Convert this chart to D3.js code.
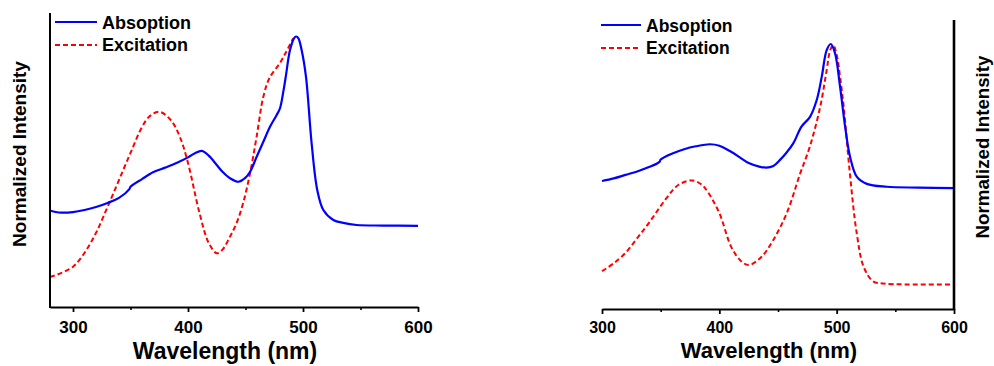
<!DOCTYPE html>
<html>
<head>
<meta charset="utf-8">
<script src="https://cdn.jsdelivr.net/npm/d3@7"></script>
<style>
  html, body { margin: 0; padding: 0; background: #fff; }
  svg { display: block; font-family: "Liberation Sans", Arial, sans-serif; font-weight: bold; }
</style>
</head>
<body>
<svg id="chart" width="994" height="366"></svg>
<script>
// ---------- Data ----------
const seriesNames = ["Absoption", "Excitation"];
const majorTicks = [300, 400, 500, 600];
const minorTicks = [350, 450, 550];
const xTitle = "Wavelength (nm)";
const yTitle = "Normalized Intensity";

// Left panel: absorption
const wlAbsL = [280, 285, 290, 300, 310, 320, 330, 340, 349, 350, 360, 370, 380, 390, 400, 406, 412, 418, 425, 430, 436.5, 443.8, 450, 454, 459.7, 465.5, 471.3, 477.1, 480, 483, 485, 488.7, 492.2, 494, 496, 498.8, 502.6, 507.5, 512.4, 517.7, 526.4, 535, 546.7, 570, 600];
const absL   = [32.8, 32.3, 32.1, 32.3, 33.0, 34.0, 35.4, 37.1, 40.1, 40.9, 43.5, 45.9, 47.4, 49.0, 50.9, 52.3, 53.1, 51.5, 48.3, 46.0, 43.8, 42.6, 44.0, 46.0, 51.1, 56.2, 61.3, 65.3, 67.6, 73.5, 78.3, 87.4, 91.4, 92.0, 91.4, 87.4, 78.3, 55.7, 39.8, 33.0, 29.6, 28.6, 27.9, 27.7, 27.6];
// Left panel: excitation
const wlExcL = [280, 290, 300, 310, 320, 330, 340, 350, 360, 367, 375, 385, 393, 400, 410, 418, 425, 430, 436.5, 442.3, 448, 454, 459.7, 465.5, 471, 480, 485, 491.5];
const excL   = [10.2, 11.6, 13.7, 18.4, 25.2, 34.0, 43.2, 52.4, 61.2, 65.0, 66.4, 63.6, 57.8, 49.0, 32.0, 21.8, 18.3, 19.5, 23.9, 28.6, 35.4, 45.6, 58.0, 71.5, 78.0, 83.0, 86.5, 91.4];

// Right panel: absorption
const wlAbsR = [300, 310, 320, 330, 340, 349, 350, 360, 370, 380, 392, 400, 410, 418, 425, 434.7, 440, 446, 451.7, 457, 463, 470, 477.3, 483, 487.3, 491.5, 495, 498.6, 502.9, 507.2, 511.4, 517.1, 525.7, 542.7, 570, 600];
const absR   = [44.3, 45.2, 46.4, 47.6, 49.1, 50.9, 51.7, 53.8, 55.3, 56.3, 57.0, 56.5, 54.4, 52.3, 50.5, 49.2, 48.9, 49.5, 51.6, 54.0, 57.3, 63.1, 66.5, 72.3, 80.4, 89.6, 91.7, 88.5, 76.9, 63.1, 52.7, 45.8, 43.3, 42.3, 42.0, 41.8];
// Right panel: excitation
const wlExcR = [300, 310, 320, 330, 340, 355, 365, 377, 385, 390, 400, 410, 418, 425, 436, 446, 457.5, 469, 477, 486, 491.5, 494.5, 497, 500, 503, 506, 511, 517, 523, 531, 540, 560, 600];
const excR   = [13.1, 15.8, 19.4, 24.5, 29.8, 38.4, 42.9, 44.5, 43.0, 40.6, 33.2, 21.6, 16.8, 15.2, 18.1, 23.9, 33.2, 47.0, 56.0, 70.0, 82.7, 89.6, 91.3, 88.0, 80.0, 70.0, 48.0, 26.5, 14.6, 9.6, 8.8, 8.5, 8.5];

// ---------- Drawing ----------
const svg = d3.select("#chart");
const BLUE = "#0000ff", RED = "#ff0000";

function panel(cfg) {
  const x = d3.scaleLinear().domain(cfg.xDomain).range(cfg.xRange);
  const y = d3.scaleLinear().domain([0, 100]).range([cfg.yBottom, cfg.yTop]);
  const g = svg.append("g");

  // curves
  const line = d3.line().x(d => x(d[0])).y(d => y(d[1])).curve(d3.curveCatmullRom.alpha(0.5));
  g.append("path").datum(d3.zip(cfg.wlExc, cfg.exc))
    .attr("d", line).attr("fill", "none").attr("stroke", RED)
    .attr("stroke-width", 2).attr("stroke-dasharray", "5,3");
  g.append("path").datum(d3.zip(cfg.wlAbs, cfg.abs))
    .attr("d", line).attr("fill", "none").attr("stroke", BLUE)
    .attr("stroke-width", 2.2);

  // minor ticks
  const minor = d3.axisBottom(x).tickValues(minorTicks).tickSize(3).tickSizeOuter(0).tickFormat("");
  const gm = g.append("g").attr("transform", `translate(0,${cfg.yBottom})`).call(minor);
  gm.select(".domain").remove();
  gm.selectAll("line").attr("stroke", "#000").attr("stroke-width", 1.6);

  // major axis
  const major = d3.axisBottom(x).tickValues(majorTicks).tickSize(5).tickSizeOuter(0).tickFormat(d3.format("d"));
  const ga = g.append("g").attr("transform", `translate(0,${cfg.yBottom})`).call(major);
  ga.select(".domain").attr("stroke", "#000").attr("stroke-width", 2);
  ga.selectAll("line").attr("stroke", "#000").attr("stroke-width", 1.8);
  ga.selectAll("text")
    .attr("y", cfg.tickBase - cfg.yBottom).attr("dy", 0)
    .attr("font-family", "Liberation Sans, Arial, sans-serif")
    .attr("font-weight", "bold").attr("font-size", cfg.tickFont).attr("fill", "#000");

  // vertical axis line (no ticks)
  g.append("line")
    .attr("x1", cfg.yAxisX).attr("x2", cfg.yAxisX)
    .attr("y1", cfg.yTop).attr("y2", cfg.yBottom + 1)
    .attr("stroke", "#000").attr("stroke-width", cfg.yAxisW);

  // x title
  g.append("text").attr("x", cfg.titleX).attr("y", cfg.titleBase)
    .attr("text-anchor", "middle").attr("font-size", cfg.titleFont).attr("fill", "#000")
    .text(xTitle);

  // y title
  g.append("text")
    .attr("transform", `translate(${cfg.yLabX},${cfg.yLabY}) rotate(-90)`)
    .attr("text-anchor", "middle").attr("font-size", cfg.yLabFont).attr("fill", "#000")
    .text(yTitle);

  // legend
  const styles = [{c: BLUE, dash: null}, {c: RED, dash: "5,3"}];
  seriesNames.forEach((name, i) => {
    const ly = cfg.legY[i];
    g.append("line").attr("x1", cfg.legX0).attr("x2", cfg.legX1)
      .attr("y1", ly).attr("y2", ly).attr("stroke", styles[i].c)
      .attr("stroke-width", 2).attr("stroke-dasharray", styles[i].dash);
    g.append("text").attr("x", cfg.legTextX).attr("y", cfg.legBase[i])
      .attr("font-size", cfg.legFont).attr("fill", "#000").text(name);
  });
}

panel({
  xDomain: [280, 600], xRange: [50, 418], yBottom: 307, yTop: 13,
  wlAbs: wlAbsL, abs: absL, wlExc: wlExcL, exc: excL,
  tickBase: 333, tickFont: 17, yAxisX: 50, yAxisW: 2,
  titleX: 225, titleBase: 359, titleFont: 23,
  yLabX: 26, yLabY: 154, yLabFont: 19,
  legX0: 55, legX1: 97, legTextX: 102, legY: [22, 45], legBase: [29, 51], legFont: 18
});

panel({
  xDomain: [300, 600], xRange: [602, 954], yBottom: 309, yTop: 20,
  wlAbs: wlAbsR, abs: absR, wlExc: wlExcR, exc: excR,
  tickBase: 333, tickFont: 16, yAxisX: 954, yAxisW: 2.6,
  titleX: 769, titleBase: 358, titleFont: 22,
  yLabX: 989, yLabY: 147, yLabFont: 18.7,
  legX0: 601, legX1: 641, legTextX: 646, legY: [25, 48], legBase: [32, 54], legFont: 17.5
});
</script>
</body>
</html>
